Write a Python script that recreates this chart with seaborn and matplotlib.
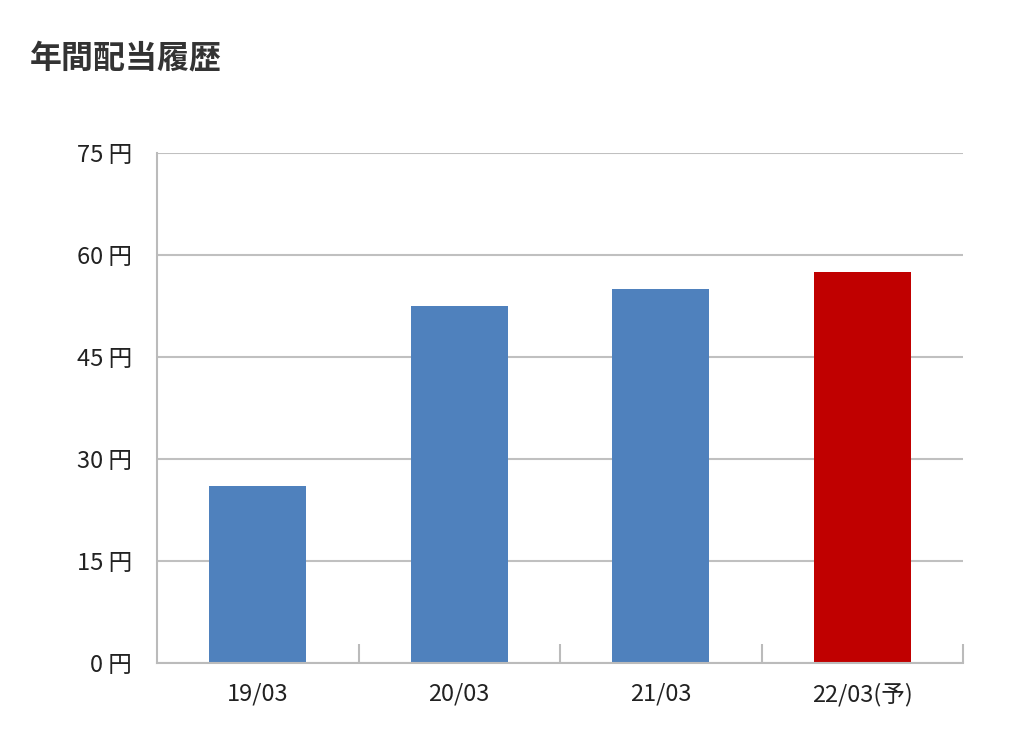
import matplotlib
matplotlib.use("Agg")
import matplotlib.pyplot as plt
import seaborn as sns
import pandas as pd

categories = ["19/03", "20/03", "21/03", "22/03(予)"]
values = [26, 52.5, 55, 57.5]
colors = ["#4f81bd", "#4f81bd", "#4f81bd", "#c00000"]
yticks = [0, 15, 30, 45, 60, 75]

sns.set_theme(style="white")
plt.rcParams['font.family'] = ['Noto Sans CJK JP', 'DejaVu Sans']

df = pd.DataFrame({"cat": categories, "val": values})
fig = plt.figure(figsize=(10.24, 7.43), dpi=100)
ax = fig.add_axes([157/1024, 1-663/743, (963-157)/1024, (663-153)/743])
sns.barplot(data=df, x="cat", y="val", hue="cat", palette=colors, legend=False,
            width=0.48, saturation=1, ax=ax, edgecolor="none")
ax.set_ylim(0, 75)
ax.set_xlim(-0.5, 3.5)
ax.set_yticks(yticks)
ax.set_yticklabels([f"{v} 円" for v in yticks], fontsize=17, color="#222222")
ax.tick_params(axis="x", labelsize=17, colors="#222222", length=0, pad=14)
ax.tick_params(axis="y", length=12, color="#bbbbbb", width=1.5, pad=6)
ax.yaxis.grid(True, color="#c0c0c0", linewidth=1.5)
ax.set_axisbelow(True)
for s in ["top", "right"]:
    ax.spines[s].set_visible(False)
for s in ["left", "bottom"]:
    ax.spines[s].set_color("#bbbbbb")
    ax.spines[s].set_linewidth(1.5)
for b in [0.5, 1.5, 2.5, 3.5]:
    ax.plot([b, b], [0, -0.0], color="#bbbbbb")
    ax.vlines(b, 0, 2.8, color="#bbbbbb", linewidth=1.5, clip_on=False)
ax.set_xlabel("")
ax.set_ylabel("")
fig.text(30/1024, 1-58/743, "年間配当履歴", fontsize=23, fontweight="bold",
         color="#333333", va="center", ha="left")
fig.savefig("out.png", dpi=100)
